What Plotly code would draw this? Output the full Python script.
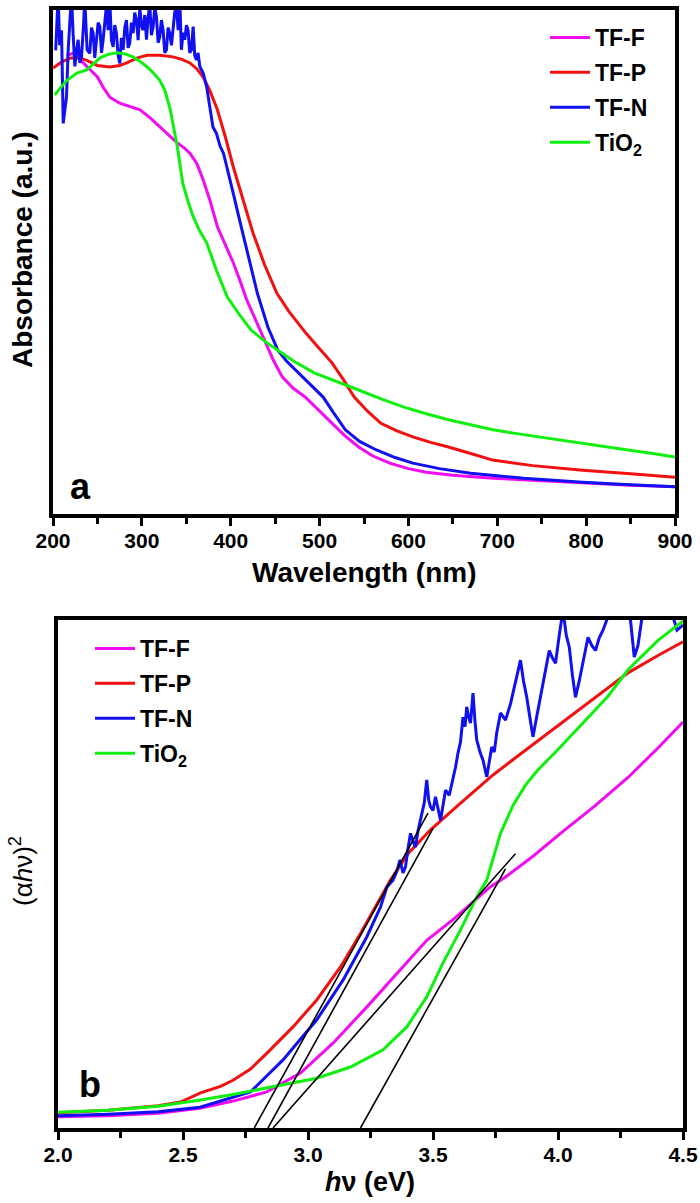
import plotly.graph_objects as go

# ---------------- Panel a : absorbance vs wavelength ----------------
series_names = ["TF-F", "TF-P", "TF-N", "TiO<sub>2</sub>"]
series_colors = ["#F20CF2", "#F21010", "#1010F0", "#10F010"]

wl_F = [215, 225, 234, 242, 250, 257, 264, 275, 287, 298, 310, 320, 330, 340, 348, 354, 362, 369, 377, 385,
        395, 403, 410, 418, 428, 438, 448, 458, 470, 484, 498, 514, 528, 544, 560, 579, 600, 620, 650, 695,
        750, 796, 850, 900]
abs_F = [91, 91.5, 89.5, 88, 86.7, 84.5, 82.7, 81.5, 80.8, 80.2, 78.5, 76.8, 75.2, 73.6, 72.6, 71.6, 69.5, 66.3, 62, 57,
         53, 49.8, 46.5, 42.5, 38.5, 34.5, 30.5, 27.2, 25, 23.2, 20.8, 18, 15.6, 13.3, 11.5, 10.1, 9.0, 8.3, 7.7, 7.1,
         6.6, 6.1, 5.7, 5.4]

wl_P = [200, 210, 220, 230, 238, 250, 264, 275, 283, 295, 306, 320, 335, 345, 354, 362, 369, 377, 385, 394,
        403, 414, 425, 438, 452, 465, 473, 485, 500, 514, 527, 539, 554, 569, 587, 605, 625, 645, 670, 695,
        740, 796, 850, 900]
abs_P = [88.5, 89.7, 90.5, 90.5, 90, 89, 88.7, 89, 89.5, 90.5, 91, 91, 90.7, 90.2, 89.5, 88.3, 86.7, 83.8, 80.2, 74.8,
         68.8, 62.3, 55.8, 49.5, 43.8, 40.3, 38.5, 35.8, 32.8, 30, 26.6, 23.2, 20.4, 18, 16.5, 15.3, 14.2, 13.3, 12, 10.7,
         9.6, 8.7, 8, 7.3]

wl_N = [203, 205.8, 207.5, 209.6, 211.5, 213.3, 215.2, 217.1, 219, 220.8, 222.7, 224.6, 226.5, 228.3, 230.2,
        232.1, 234, 235.8, 238.4, 241.4, 243.3, 245.2, 247, 248.9, 250.8, 252.7, 254.6, 256.4, 258.3, 260.2,
        262, 263.9, 265.8, 267.7, 269.5, 271.4, 273.3, 275.2, 277, 278.9, 280.8, 282.7, 284.5, 286.4, 288.3,
        290.2, 292, 293.9, 295.8, 297.7, 299.5, 301.4, 303.3, 305.2, 307, 308.9, 310.8, 312.7, 314.5, 316.4,
        318.3, 320.2, 322, 323.9, 325.8, 327.7, 329.5, 331.4, 333.3, 335.2, 337, 338.9, 340.8, 342.7, 344.5,
        346.4, 348.3, 350.2, 352.0, 353.9, 355.8, 357.7, 359.5, 361.4, 363.3, 365.2, 369, 373, 376, 380, 384,
        388, 392, 396, 403, 410, 420, 430, 442, 453, 463, 473, 488, 504, 516, 529, 545, 564,
        585, 605, 635, 670, 730, 796, 850, 900]
abs_N = [92, 103, 93, 96, 77.5, 80, 82.8, 92.1, 97, 103, 95, 88.8, 92, 94.1, 89.5,
         90.7, 96, 102, 92.1, 91.4, 96.5, 95.4, 90.5, 93.4, 97.5, 96.7, 91.5, 94.1, 98, 101,
         96, 102, 94, 92.7, 97, 95.4, 91, 89.4, 94.5, 92.1, 96.5, 98.0, 92.5, 93.4, 97.5,
         95.4, 99.5, 98.0, 94, 100.5, 97, 96.0, 99, 94.1, 98.5, 101, 95, 96.7, 100.5, 98.7,
         93.5, 94.7, 98, 96.0, 91.5, 92.1, 96.5, 95.4, 93, 96.0, 99.5, 101, 96, 102, 92.1,
         95.5, 94.1, 97, 96.0, 91.5, 92.1, 96.7, 91, 90.1, 91.5, 88.8, 87.5, 84.7, 81.5, 76.8, 75.5,
         73, 71.5, 68.8, 63.5, 58.3, 51, 43.8, 37, 32.5, 30.3, 28.6, 26, 23.2, 20, 16.7, 14.4, 12.7,
         11.2, 10.1, 9.0, 8.1, 7.1, 6.3, 5.8, 5.4]

wl_T = [202, 208, 216, 227, 238, 245, 253, 262, 272, 281, 290, 298, 306, 313, 320, 326, 332, 336, 340, 343,
        346, 352, 358, 365, 373, 384, 396, 410, 423, 438, 453, 472, 494, 518, 544, 570, 595, 620, 645, 670,
        695, 720, 746, 771, 796, 822, 847, 875, 900]
abs_T = [83.1, 84.5, 86.1, 87.5, 88.1, 89.2, 90.5, 91.2, 91.5, 91.3, 90.7, 89.8, 88.7, 87.5, 86.1, 84, 80.2, 76.5, 72.8, 69.2,
         65.7, 62, 58.9, 56.2, 53.8, 48.3, 43.1, 39.5, 36.5, 34.3, 32.5, 30.2, 28, 26.3, 24.6, 22.8, 21.2, 19.9, 18.7, 17.7,
         16.7, 16.0, 15.3, 14.7, 14.1, 13.4, 12.7, 12.0, 11.3]

# ---------------- Panel b : Tauc plot ----------------
ev_F = [2.0, 2.2, 2.4, 2.568, 2.70, 2.835, 2.97, 3.10, 3.235, 3.37, 3.476, 3.58, 3.73, 3.79, 3.9, 4.01, 4.15, 4.28, 4.4, 4.5]
tauc_F = [2.2, 2.4, 2.9, 3.9, 5.3, 7.1, 10.8, 16.7, 23.8, 31.1, 37, 41, 47.5, 49.4, 53.5, 58, 63.5, 69, 74.8, 79.9]

ev_P = [2.0, 2.2, 2.4, 2.49, 2.57, 2.65, 2.70, 2.77, 2.835, 2.94, 3.035, 3.13, 3.21, 3.29, 3.33, 3.40, 3.49, 3.6,
        3.74, 3.9, 4.1, 4.28, 4.4, 4.5]
tauc_P = [3.0, 3.5, 4.4, 5.1, 6.9, 8.2, 9.4, 11.6, 14.7, 19.9, 25.2, 31.7, 38.3, 45.5, 48.8, 54, 58.7, 63.5,
          69.5, 75.5, 82.9, 89.6, 93, 95.7]

ev_N = [2.0, 2.2, 2.4, 2.568, 2.77, 2.90, 3.035, 3.14, 3.235, 3.29, 3.315, 3.34, 3.355, 3.368, 3.38, 3.39, 3.40,
        3.41, 3.42, 3.43, 3.44, 3.45, 3.465, 3.475, 3.483, 3.49, 3.50, 3.51, 3.52, 3.53, 3.54, 3.55, 3.565, 3.58,
        3.59, 3.60, 3.61, 3.62, 3.628, 3.635, 3.642, 3.65, 3.655, 3.66, 3.668, 3.675, 3.688, 3.70, 3.715, 3.725,
        3.735, 3.745, 3.755, 3.77, 3.79, 3.81, 3.83, 3.85, 3.862, 3.875, 3.89, 3.90, 3.915, 3.93, 3.95, 3.965,
        3.978, 3.99, 4.005, 4.02, 4.033, 4.045, 4.058, 4.07, 4.085, 4.10, 4.12, 4.135, 4.15, 4.165, 4.18, 4.21,
        4.25, 4.29, 4.305, 4.32, 4.34, 4.39, 4.44, 4.476, 4.5]
tauc_N = [2.4, 2.7, 3.2, 4.1, 7.1, 13.4, 21.3, 29.1, 37.6, 43.5, 47.4, 48.8, 50.5, 52.8, 50.2, 51.4, 55,
          58, 56.5, 55.3, 58.5, 60.6, 64, 68.5, 64.5, 63.2, 62.5, 65.2, 63, 60.6, 63.5, 66.5, 65.5, 68.5,
          71, 73.8, 76, 80.9, 79, 82.9, 81, 79.7, 82.5, 85.6, 80, 76.4, 74, 72.4, 69.1, 72,
          75, 74, 77.8, 81.7, 80.3, 83.5, 88, 92.1, 88, 84.8, 80, 77, 81, 84.8, 90, 94,
          92.5, 91.5, 97, 102, 97, 94.7, 89, 84.8, 88, 91.5, 96.6, 95, 94, 96.5, 98, 102,
          106, 100, 92.7, 95, 102, 108, 104, 98, 99]

ev_T = [2.0, 2.2, 2.4, 2.57, 2.70, 2.835, 3.035, 3.17, 3.30, 3.395, 3.475, 3.54, 3.61, 3.675, 3.715, 3.77, 3.82,
        3.87, 3.92, 4.0, 4.10, 4.2, 4.28, 4.4, 4.5]
tauc_T = [3.1, 3.5, 4.3, 5.5, 6.6, 7.9, 9.8, 12, 15.4, 19.9, 25.8, 32.5, 39, 45.5, 48.8, 58, 63.5,
          67.5, 70.5, 74.5, 79.7, 85, 90.2, 96, 99.8]

# linear extrapolations (band-gap fits)
fit_start_ev = [2.785, 2.84, 2.86, 3.21]
fit_end_ev = [3.48, 3.50, 3.83, 3.79]
fit_end_y = [62, 59, 54, 51]

panel_a = [(wl_F, abs_F), (wl_P, abs_P), (wl_N, abs_N), (wl_T, abs_T)]
panel_b = [(ev_F, tauc_F), (ev_P, tauc_P), (ev_N, tauc_N), (ev_T, tauc_T)]

FONT = "Liberation Sans, Arial, sans-serif"
W, H = 700, 1203

fig = go.Figure()
for i, ((x, y), name, col) in enumerate(zip(panel_a, series_names, series_colors)):
    fig.add_trace(go.Scatter(x=x, y=y, mode="lines", name=name, line=dict(color=col, width=3),
                             xaxis="x", yaxis="y", legend="legend", legendgroup="a%d" % i))
for i, ((x, y), name, col) in enumerate(zip(panel_b, series_names, series_colors)):
    fig.add_trace(go.Scatter(x=x, y=y, mode="lines", name=name, line=dict(color=col, width=3),
                             xaxis="x2", yaxis="y2", legend="legend2", legendgroup="b%d" % i))
for x0, x1, y1 in zip(fit_start_ev, fit_end_ev, fit_end_y):
    fig.add_trace(go.Scatter(x=[x0, x1], y=[0, y1], mode="lines", line=dict(color="black", width=1.6),
                             xaxis="x2", yaxis="y2", showlegend=False))


def px_x(p):
    return p / W


def px_y(p):
    return (H - p) / H


common_x = dict(showline=True, linewidth=4, linecolor="black", mirror=True, showgrid=False, zeroline=False,
                automargin=False,
                ticks="outside", ticklen=8, tickwidth=3, tickcolor="black", ticklabelstandoff=-3,
                tickfont=dict(family=FONT, size=21, color="black", weight="bold"))
common_y = dict(showline=True, linewidth=4, linecolor="black", mirror=True, showgrid=False, zeroline=False,
                automargin=False, ticks="", showticklabels=False, range=[0, 100])

leg_common = dict(font=dict(family=FONT, size=23, color="black", weight="bold"), bgcolor="rgba(0,0,0,0)",
                  borderwidth=0, tracegroupgap=2, itemwidth=40, xanchor="left", yanchor="top")

fig.update_layout(
    template="none",
    width=W, height=H, autosize=False, margin=dict(l=0, r=0, t=0, b=0, pad=0),
    paper_bgcolor="white", plot_bgcolor="white", showlegend=True,
    xaxis=dict(domain=[px_x(53), px_x(675)], range=[200, 900], tickmode="linear", tick0=200, dtick=100,
               minor=dict(dtick=50, tick0=200, ticks="outside", ticklen=6, tickwidth=3, tickcolor="black"),
               anchor="y", **common_x),
    yaxis=dict(domain=[px_y(514), px_y(10)], anchor="x", **common_y),
    xaxis2=dict(domain=[px_x(58), px_x(683)], range=[2.0, 4.5], tickmode="linear", tick0=2.0, dtick=0.5,
                tickformat=".1f",
                minor=dict(dtick=0.25, tick0=2.0, ticks="outside", ticklen=6, tickwidth=3, tickcolor="black"),
                anchor="y2", **common_x),
    yaxis2=dict(domain=[px_y(1128), px_y(620)], anchor="x2", **common_y),
    legend=dict(x=px_x(545), y=px_y(16), **leg_common),
    legend2=dict(x=px_x(90), y=px_y(627), **leg_common),
)

ann = [
    dict(text="<b>Wavelength (nm)</b>", x=px_x(364), y=px_y(572), font=dict(size=28)),
    dict(text="<b>Absorbance (a.u.)</b>", x=px_x(22), y=px_y(250), font=dict(size=28), textangle=-90),
    dict(text="<b><i>h</i>ν (eV)</b>", x=px_x(370), y=px_y(1182), font=dict(size=27)),
    dict(text="(α<i>h</i>ν)<sup>2</sup>", x=px_x(22), y=px_y(871), font=dict(size=26), textangle=-90),
    dict(text="<b>a</b>", x=px_x(80), y=px_y(487), font=dict(size=36)),
    dict(text="<b>b</b>", x=px_x(90), y=px_y(1084), font=dict(size=36)),
]
for a in ann:
    a.update(xref="paper", yref="paper", showarrow=False, xanchor="center", yanchor="middle")
    a["font"].update(family=FONT, color="black")
fig.update_layout(annotations=ann)

fig.write_html("out.html", config={"displayModeBar": False},
               post_script="document.body.style.margin='0px';document.body.style.overflow='hidden';")
